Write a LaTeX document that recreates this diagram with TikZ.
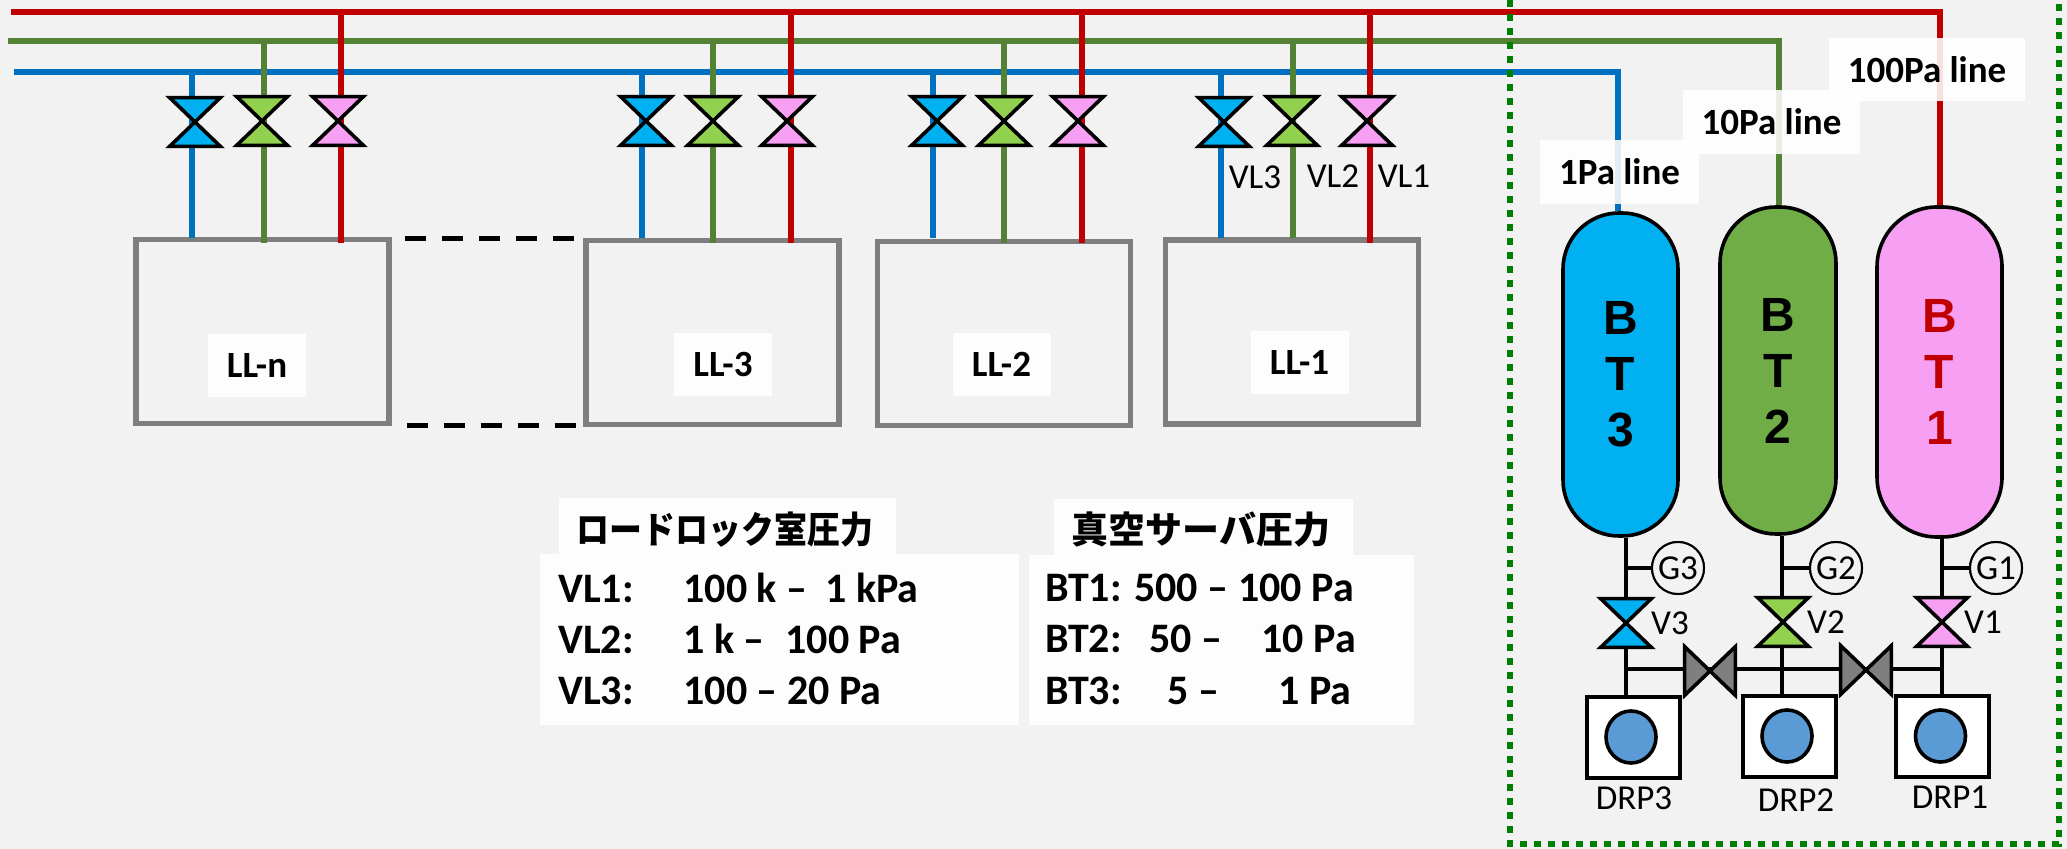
\documentclass[tikz,border=0pt]{standalone}
\usepackage{fontspec}
\usepackage{graphicx}
\setmainfont{Carlito}
\newfontfamily\cjkfont{Noto Sans CJK JP}
\newfontfamily\tankfont{Liberation Sans}
\usetikzlibrary{shapes.geometric}
\definecolor{linered}{HTML}{C00000}
\definecolor{linegreen}{HTML}{548235}
\definecolor{lineblue}{HTML}{0070C0}
\definecolor{valvecyan}{HTML}{00B0F0}
\definecolor{valvegreen}{HTML}{92D050}
\definecolor{pinkfill}{HTML}{F79FF3}
\definecolor{tankgreen}{HTML}{70AD47}
\definecolor{pumpblue}{HTML}{5B9BD5}
\definecolor{boxgray}{HTML}{7F7F7F}
\definecolor{paper}{HTML}{F2F2F2}
\definecolor{dotgreen}{HTML}{008000}
\tikzset{
  redline/.style={draw=linered, line width=3pt},
  greenline/.style={draw=linegreen, line width=3pt},
  blueline/.style={draw=lineblue, line width=3pt},
  pipe/.style={draw=black, line width=2pt},
  valvenode/.style={inner sep=0pt, minimum width=25pt, minimum height=24pt},
  valveline/.style={draw=black, line width=1.8pt, line join=miter},
  llbox/.style={draw=boxgray, line width=2.6pt, minimum width=126.5pt, minimum height=92pt, inner sep=0pt},
  whitetag/.style={fill=white, fill opacity=0.88, text opacity=1, inner sep=0pt, font=\bfseries\fontsize{18.5}{20}\selectfont},
  thinlabel/.style={inner sep=0pt, font=\fontsize{17.5}{20}\selectfont},
  tabletext/.style={anchor=west, inner sep=0pt, font=\bfseries\fontsize{21}{23}\selectfont},
  tablehead/.style={inner sep=0pt, font=\cjkfont\bfseries\fontsize{18.5}{20}\selectfont},
  tablepanel/.style={fill=white, fill opacity=0.88},
  tank/.style={draw=black, line width=1.8pt, inner sep=0pt, align=center,
    font=\tankfont\bfseries\fontsize{24}{28}\selectfont},
  gauge/.style={circle, draw=black, fill=paper, line width=1pt, minimum size=26pt, inner sep=0pt, font=\fontsize{17.5}{20}\selectfont},
  pumpbox/.style={draw=black, fill=white, line width=2pt, minimum width=46.5pt, minimum height=40.5pt, inner sep=0pt},
  pumpcircle/.style={ellipse, draw=black, fill=pumpblue, line width=1.8pt, minimum width=25pt, minimum height=26pt, inner sep=0pt},
}
% upright bow tie for the line valves
\newcommand{\valve}[3]{
  \node[valvenode] (#1) at (#2) {};
  \draw[valveline, fill=#3] (#1.south west) -- (#1.south east) -- (#1.north west) -- (#1.north east) -- cycle;
}
% lying bow tie for the bypass valves
\newcommand{\sidevalve}[2]{
  \node[valvenode] (#1) at (#2) {};
  \draw[valveline, fill=boxgray] (#1.north west) -- (#1.south west) -- (#1.north east) -- (#1.south east) -- cycle;
}
\begin{document}
\begin{tikzpicture}[x=0.5pt, y=-0.5pt]

  \useasboundingbox[fill=paper] (0,0) rectangle (2067,849);

  % Load lock chambers
  \node[llbox] (lln) at (262.5,331.5) {};
  \node[llbox] (ll3) at (712.5,332.5) {};
  \node[llbox] (ll2) at (1004,333.5) {};
  \node[llbox] (ll1) at (1292,332) {};

  % Chamber names
  \node[whitetag, minimum width=49pt, minimum height=31.5pt] (lnlabel) at (257,365.5) {LL-n};
  \node[whitetag, minimum width=49pt, minimum height=31.5pt] (l3label) at (723,364.5) {LL-3};
  \node[whitetag, minimum width=49pt, minimum height=31.5pt] (l2label) at (1001.5,364.5) {LL-2};
  \node[whitetag, minimum width=49pt, minimum height=31.5pt] (l1label) at (1299.5,362.5) {LL-1};

  % Chambers left out
  \draw[line width=2.5pt, dash pattern=on 10.5pt off 8pt] (lln.north east) ++(13,2) coordinate (dasha) -- (ll3.north west |- dasha);
  \draw[line width=2.5pt, dash pattern=on 10.5pt off 8pt] (lln.south east) ++(15,-1) coordinate (dashb) -- (ll3.south west |- dashb);

  % Main lines
  \coordinate (redstart) at (11,12);
  \coordinate (greenstart) at (8,41);
  \coordinate (bluestart) at (14,72);
  \coordinate (redcorner) at (1940,12);
  \coordinate (greencorner) at (1779,41);
  \coordinate (bluecorner) at (1618,72);

  % Tanks
  \node[tank, fill=valvecyan, minimum width=57.5pt, rounded corners=28pt, minimum height=161.5pt] (bt3) at (1620.5,374.5) {B\\T\\3};
  \node[tank, fill=tankgreen, minimum width=58pt, rounded corners=28pt, minimum height=163.5pt] (bt2) at (1778,370.5) {B\\T\\2};
  \node[tank, fill=pinkfill, minimum width=62.5pt, rounded corners=30pt, minimum height=165pt, text=linered] (bt1) at (1939.5,372) {B\\T\\1};

  \draw[blueline] (bluestart) -- (bluecorner) -- (bt3.north -| bluecorner);
  \draw[greenline] (greenstart) -- (greencorner) -- (bt2.north -| greencorner);
  \draw[redline] (redstart) -- (redcorner) -- (bt1.north -| redcorner);

  % Branches of LL-n
  \draw[blueline] (192,72) -- (192,238);
  \draw[greenline] (264,41) -- (264,243);
  \draw[redline] (341,12) -- (341,243);

  % Branches of LL-3
  \draw[blueline] (642,72) -- (642,238);
  \draw[greenline] (713,41) -- (713,243);
  \draw[redline] (791,12) -- (791,243);

  % Branches of LL-2
  \draw[blueline] (933,72) -- (933,238);
  \draw[greenline] (1004,41) -- (1004,243);
  \draw[redline] (1082,12) -- (1082,243);

  % Branches of LL-1
  \draw[blueline] (1221,72) -- (1221,238);
  \draw[greenline] (1293,41) -- (1293,238);
  \draw[redline] (1370,12) -- (1370,243);

  % Valves of the chambers
  \valve{vlnb}{195,122}{valvecyan}
  \valve{vlng}{262,121}{valvegreen}
  \valve{vlnr}{338,121}{pinkfill}
  \valve{vl3b}{646,121}{valvecyan}
  \valve{vl3g}{713,121}{valvegreen}
  \valve{vl3r}{787,121}{pinkfill}
  \valve{vl2b}{937,121}{valvecyan}
  \valve{vl2g}{1004,121}{valvegreen}
  \valve{vl2r}{1078,121}{pinkfill}
  \valve{vl1b}{1224,122}{valvecyan}
  \valve{vl1g}{1292,121}{valvegreen}
  \valve{vl1r}{1367,121}{pinkfill}

  \node[thinlabel] (vl3text) at (1255,177) {VL3};
  \node[thinlabel] (vl2text) at (1333,176) {VL2};
  \node[thinlabel] (vl1text) at (1404,176) {VL1};

  % Line names
  \node[whitetag, minimum width=98pt, minimum height=31.5pt] (tag100) at (1927,69.5) {100Pa line};
  \node[whitetag, minimum width=88.5pt, minimum height=32pt] (tag10) at (1771.5,122) {10Pa line};
  \node[whitetag, minimum width=79.5pt, minimum height=32pt] (tag1) at (1619.5,172) {1Pa line};

  % Gauges
  \node[gauge] (g3) at (1678,568) {G3};
  \node[gauge] (g2) at (1836,568) {G2};
  \node[gauge] (g1) at (1996,568) {G1};

  % Pumps
  \node[pumpbox] (drp3) at (1633.5,737.5) {};
  \node[pumpbox] (drp2) at (1789,736.5) {};
  \node[pumpbox] (drp1) at (1942.5,736.5) {};
  \node[pumpcircle] (fan3) at (1631,737) {};
  \node[pumpcircle] (fan2) at (1787,736) {};
  \node[pumpcircle] (fan1) at (1940.5,736) {};
  \node[thinlabel] (drp3text) at (1634,798) {DRP3};
  \node[thinlabel] (drp2text) at (1796,800) {DRP2};
  \node[thinlabel] (drp1text) at (1950,797) {DRP1};

  % Pipes under the tanks
  \coordinate (j3) at (1626,669);
  \coordinate (j2) at (1782,669);
  \coordinate (j1) at (1942,669);
  \draw[pipe] (bt3.south -| j3) -- (drp3.north -| j3);
  \draw[pipe] (bt2.south -| j2) -- (drp2.north -| j2);
  \draw[pipe] (bt1.south -| j1) -- (drp1.north -| j1);
  \draw[pipe] (g3) -- (g3 -| j3);
  \draw[pipe] (g2) -- (g2 -| j2);
  \draw[pipe] (g1) -- (g1 -| j1);
  \draw[pipe] (j3) -- (j1);
  \node[gauge] at (g3) {G3};
  \node[gauge] at (g2) {G2};
  \node[gauge] at (g1) {G1};

  % Tank valves
  \valve{v3}{1626,623}{valvecyan}
  \valve{v2}{1783,622}{valvegreen}
  \valve{v1}{1942,622}{pinkfill}
  \sidevalve{bypassa}{1710,671}
  \sidevalve{bypassb}{1866,670}
  \node[thinlabel] (v3text) at (1670,623) {V3};
  \node[thinlabel] (v2text) at (1826,622) {V2};
  \node[thinlabel] (v1text) at (1983,622) {V1};

  % Pressure table, load lock
  \fill[tablepanel] (559,498) rectangle (896,554);
  \fill[tablepanel] (540,554) rectangle (1019,725);
  \node[tablehead] (llhead) at (725,530) {\scalebox{0.89}[1]{ロードロック室圧力}};
  \node[tabletext] (rowa) at (558,588) {VL1:\hspace{24.8pt}100 k –\hspace{9pt}1 kPa};
  \node[tabletext] (rowb) at (558,639) {VL2:\hspace{24.8pt}1 k –\hspace{10.3pt}100 Pa};
  \node[tabletext] (rowc) at (558,691) {VL3:\hspace{24.8pt}100 – 20 Pa};

  % Pressure table, vacuum server
  \fill[tablepanel] (1054,499) rectangle (1353,555);
  \fill[tablepanel] (1029,555) rectangle (1414,725);
  \node[tablehead] (bthead) at (1201,530) {真空サーバ圧力};
  \node[tabletext] (rowd) at (1045,588) {BT1: 500 – 100 Pa};
  \node[tabletext] (rowe) at (1045,639) {BT2:\hspace{13.9pt}50 –\hspace{19.5pt}10 Pa};
  \node[tabletext] (rowf) at (1045,691) {BT3:\hspace{22.9pt}5 –\hspace{29.6pt}1 Pa};

  % Boundary of the tank area
  \draw[draw=dotgreen, line width=3.4pt, dash pattern=on 3.5pt off 3.5pt] (1510,0) -- (1510,844) -- (2059,844) -- (2059,0);

\end{tikzpicture}
\end{document}
